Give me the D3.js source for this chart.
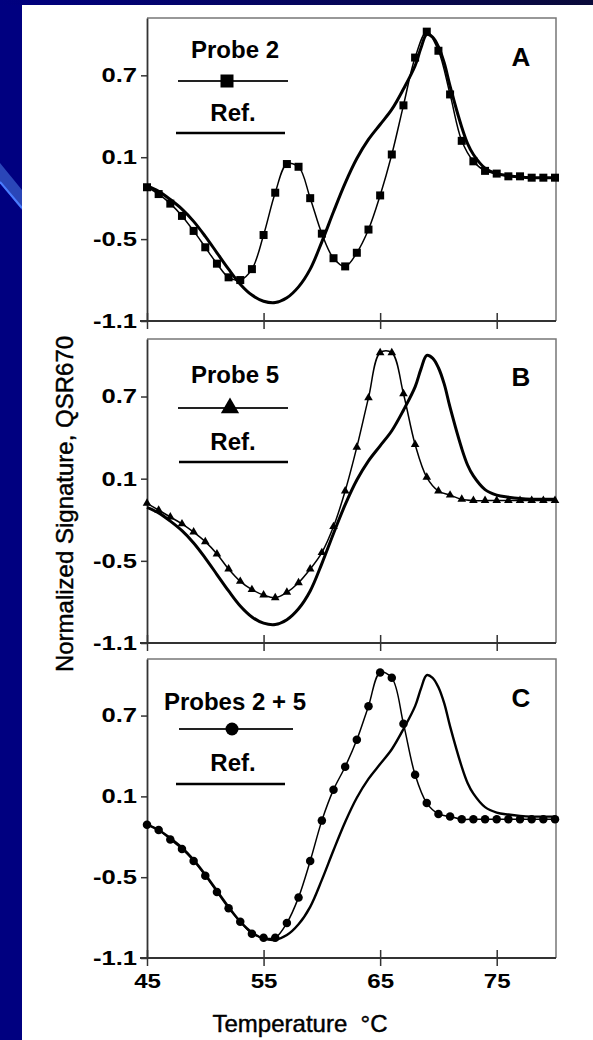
<!DOCTYPE html>
<meta charset="utf-8">
<style>
body { margin: 0; background: #000080; }
svg text { font-family: "Liberation Sans", Arial, sans-serif; fill: #000; }
.tick text { font-size: 20px; font-weight: bold; }
.legend-label { font-size: 24px; font-weight: bold; }
.panel-letter { font-size: 26px; font-weight: bold; }
.axis-title { font-size: 24px; white-space: pre; stroke: #000; stroke-width: 0.45px; }
</style>
<body>
<div id="chart"></div>
<script src="https://d3js.org/d3.v7.min.js"></script>
<script>

// ---- data ----
var temps = [45, 46, 47, 48, 49, 50, 51, 52, 53, 54, 55, 56, 57, 58, 59, 60, 61, 62,
             63, 64, 65, 66, 67, 68, 69, 70, 71, 72, 73, 74, 75, 76, 77, 78, 79, 80];

var probe2 = [-0.12, -0.17, -0.24, -0.33, -0.44, -0.56, -0.68, -0.78, -0.80, -0.72, -0.47, -0.16,
              0.05, 0.03, -0.20, -0.46, -0.64, -0.70, -0.60, -0.43, -0.18, 0.12, 0.48, 0.83,
              1.02, 0.88, 0.56, 0.22, 0.07, 0.00, -0.02, -0.04, -0.04, -0.05, -0.05, -0.05];

var probe5 = [-0.08, -0.13, -0.18, -0.23, -0.29, -0.36, -0.45, -0.56, -0.65, -0.71, -0.75, -0.77,
              -0.73, -0.66, -0.56, -0.44, -0.25, 0.01, 0.33, 0.69, 1.02, 1.02, 0.72, 0.35,
              0.11, 0.01, -0.02, -0.05, -0.06, -0.06, -0.06, -0.06, -0.06, -0.06, -0.06, -0.06];

var probes25 = [-0.11, -0.15, -0.22, -0.29, -0.38, -0.49, -0.61, -0.73, -0.83, -0.92, -0.95, -0.95,
                -0.84, -0.65, -0.38, -0.08, 0.15, 0.32, 0.52, 0.77, 1.02, 0.98, 0.64, 0.26,
                0.05, -0.03, -0.05, -0.07, -0.07, -0.07, -0.07, -0.07, -0.07, -0.07, -0.07, -0.07];

// reference melt curve (same in every panel)
var refTemps = [45, 46, 47, 48, 49, 50, 51, 52, 53, 54, 55, 56, 57, 58, 59, 60, 61, 62, 63, 64,
                65, 66, 67, 68, 68.5, 69, 69.5, 70, 70.5, 71, 72, 72.5, 73, 74, 75, 76, 77, 78, 79, 80];
var refValues = [-0.11, -0.15, -0.21, -0.28, -0.37, -0.48, -0.60, -0.72, -0.83, -0.91, -0.955, -0.965,
                 -0.93, -0.85, -0.72, -0.52, -0.30, -0.09, 0.09, 0.23, 0.34, 0.45, 0.60, 0.77, 0.90,
                 1.00, 0.98, 0.91, 0.79, 0.62, 0.32, 0.20, 0.12, 0.02, -0.02, -0.035, -0.045, -0.05, -0.05, -0.05];

var yTicks = [-1.1, -0.5, 0.1, 0.7];
var xTicks = [45, 55, 65, 75];
var panelNames = ["Probe 2", "Probe 5", "Probes 2 + 5"];
var panelLetters = ["A", "B", "C"];
var markerTypes = ["square", "triangle", "circle"];

// ---- layout ----
var W = 593, H = 1040;
var plotLeft = 147, plotRight = 555, frameRight = 556;
var tickStretch = 1.28;   // tick numbers in the source are drawn wide
var panels = [
  {top: 18,  bottom: 321, legendTitle: 50,  legendLine: 81,  legendRef: 113, legendRefLine: 133, lineX: [178, 288], refX: [176, 285], letterY: 57},
  {top: 339, bottom: 643, legendTitle: 375, legendLine: 408, legendRef: 442, legendRefLine: 462, lineX: [178, 288], refX: [179, 288], letterY: 377},
  {top: 659, bottom: 958, legendTitle: 702, legendLine: 729, legendRef: 763, legendRefLine: 784, lineX: [179, 293], refX: [176, 285], letterY: 698}
];
var series = [probe2, probe5, probes25];

// plain hyphen for negatives, like the source
function fmt1(d) { return d.toFixed(1); }

var svg = d3.select("#chart").append("svg")
    .attr("width", W)
    .attr("height", H);

// slide background
var defs = svg.append("defs");
var grad = defs.append("linearGradient").attr("id", "topband");
grad.append("stop").attr("offset", "0%").attr("stop-color", "#000080");
grad.append("stop").attr("offset", "100%").attr("stop-color", "#0a0a3a");

svg.append("rect").attr("width", W).attr("height", H).attr("fill", "#000080");
svg.append("rect").attr("width", W).attr("height", 5).attr("fill", "url(#topband)");
svg.append("polygon")
    .attr("points", "0,163 22,190 22,210 0,183")
    .attr("fill", "#2a46b8");
svg.append("line")
    .attr("x1", 0).attr("y1", 182).attr("x2", 22).attr("y2", 208)
    .attr("stroke", "#4a7cff").attr("stroke-width", 2);
svg.append("rect")
    .attr("x", 22).attr("y", 5)
    .attr("width", W - 22).attr("height", H - 5)
    .attr("fill", "#fff");

var x = d3.scaleLinear().domain([45, 80]).range([plotLeft, plotRight]);

function marker(g, type, size) {
  if (type === "square") {
    return g.append("rect")
      .attr("x", -size / 2).attr("y", -size / 2)
      .attr("width", size).attr("height", size)
      .attr("fill", "#000");
  } else if (type === "triangle") {
    return g.append("path")
      .attr("d", d3.symbol(d3.symbolTriangle, size * size * 0.5)())
      .attr("fill", "#000");
  }
  return g.append("circle").attr("r", size / 2).attr("fill", "#000");
}

panels.forEach(function(p, i) {
  var y = d3.scaleLinear().domain([-1.1, 1.12]).range([p.bottom, p.top]);
  var g = svg.append("g");

  // frame (top and right, light)
  g.append("path")
      .attr("d", "M" + plotLeft + "," + p.top + "H" + frameRight + "V" + p.bottom)
      .attr("fill", "none")
      .attr("stroke", "#777")
      .attr("stroke-width", 1.5);

  // y axis
  var yAxis = g.append("g")
      .attr("class", "axis")
      .attr("transform", "translate(" + plotLeft + ",0)")
      .call(d3.axisLeft(y).tickValues(yTicks).tickSizeInner(6).tickSizeOuter(0).tickPadding(4)
        .tickFormat(fmt1));
  yAxis.select(".domain").attr("stroke", "#333").attr("stroke-width", 1.8);
  yAxis.selectAll(".tick line").attr("stroke", "#333").attr("stroke-width", 1.5);
  yAxis.selectAll(".tick text")
      .attr("font-family", null).attr("font-size", null)
      .attr("x", -10 / tickStretch)
      .attr("transform", "scale(" + tickStretch + ",1)");

  // x axis with crossing ticks
  var xAxis = g.append("g")
      .attr("class", "axis")
      .attr("transform", "translate(0," + p.bottom + ")")
      .call(d3.axisBottom(x).tickValues(xTicks).tickSizeInner(8).tickSizeOuter(0).tickPadding(8)
        .tickFormat(i === 2 ? d3.format("d") : ""));
  xAxis.select(".domain").remove();
  xAxis.selectAll(".tick line").attr("y1", -8).attr("stroke", "#333").attr("stroke-width", 1.5);
  xAxis.selectAll(".tick text")
      .attr("font-family", null).attr("font-size", null)
      .attr("transform", "scale(" + (tickStretch * 0.94) + ",1)");
  xAxis.append("line")
      .attr("x1", plotLeft - 7).attr("x2", frameRight)
      .attr("stroke", "#333").attr("stroke-width", 1.8);

  // reference curve
  var line = d3.line()
      .x(function(d) { return x(d[0]); })
      .y(function(d) { return y(d[1]); })
      .curve(d3.curveCatmullRom.alpha(0.5));

  var refData = refTemps.map(function(t, k) { return [t, refValues[k]]; });
  g.append("path")
      .datum(refData)
      .attr("d", line)
      .attr("fill", "none")
      .attr("stroke", "#000")
      .attr("stroke-width", i === 2 ? 2.4 : 3);

  // probe curve + markers
  var probeData = temps.map(function(t, k) { return [t, series[i][k]]; });
  g.append("path")
      .datum(probeData)
      .attr("d", line)
      .attr("fill", "none")
      .attr("stroke", "#000")
      .attr("stroke-width", 1.5);

  var pts = g.selectAll(".pt")
      .data(probeData)
      .enter().append("g")
      .attr("class", "pt")
      .attr("transform", function(d) { return "translate(" + x(d[0]) + "," + y(d[1]) + ")"; });
  pts.each(function() { marker(d3.select(this), markerTypes[i], i === 2 ? 8.5 : 8); });

  // legend
  g.append("text")
      .attr("class", "legend-label")
      .attr("x", 235).attr("y", p.legendTitle)
      .attr("dy", "0.35em")
      .attr("text-anchor", "middle")
      .text(panelNames[i]);
  g.append("line")
      .attr("x1", p.lineX[0]).attr("x2", p.lineX[1])
      .attr("y1", p.legendLine).attr("y2", p.legendLine)
      .attr("stroke", "#222").attr("stroke-width", 2);
  var lm = g.append("g").attr("transform", "translate(" + (i === 0 ? 227 : (i === 1 ? 230 : 232)) + "," + p.legendLine + ")");
  marker(lm, markerTypes[i], i === 1 ? 17 : 13);
  g.append("text")
      .attr("class", "legend-label")
      .attr("x", 233).attr("y", p.legendRef)
      .attr("dy", "0.35em")
      .attr("text-anchor", "middle")
      .text("Ref.");
  g.append("line")
      .attr("x1", p.refX[0]).attr("x2", p.refX[1])
      .attr("y1", p.legendRefLine).attr("y2", p.legendRefLine)
      .attr("stroke", "#000").attr("stroke-width", 2.5);

  // panel letter
  g.append("text")
      .attr("class", "panel-letter")
      .attr("x", 521).attr("y", p.letterY)
      .attr("dy", "0.35em")
      .attr("text-anchor", "middle")
      .text(panelLetters[i]);
});

// axis titles
svg.append("text")
    .attr("class", "axis-title")
    .attr("transform", "translate(65,504) rotate(-90)")
    .attr("dy", "0.35em")
    .attr("text-anchor", "middle")
    .text("Normalized Signature, QSR670");

svg.append("text")
    .attr("class", "axis-title")
    .attr("x", 300).attr("y", 1024)
    .attr("dy", "0.35em")
    .attr("text-anchor", "middle")
    .text("Temperature  \u00B0C");

</script>
</body>
